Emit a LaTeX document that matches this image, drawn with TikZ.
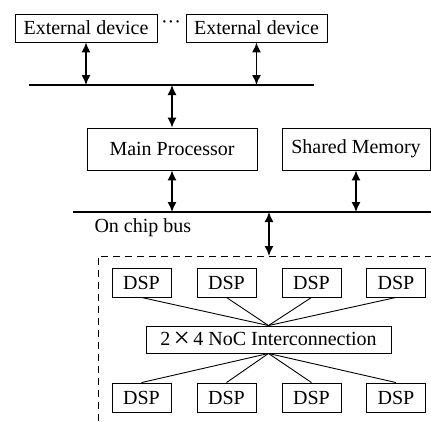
\documentclass[tikz,border=0pt]{standalone}
\usepackage{fontspec}
\setmainfont{Liberation Serif}
\usepackage{graphicx}
\usetikzlibrary{arrows.meta, math}

\begin{document}
\begin{tikzpicture}[x=1pt, y=-1pt,
  txt/.style={font=\fontsize{20}{22}\selectfont},
  box/.style={draw, line width=0.9pt, inner sep=0pt, txt},
  dsp/.style={box, minimum width=59, minimum height=29},
  bus/.style={line width=2.2pt},
  link/.style={{Latex[length=10pt,width=9pt]}-{Latex[length=10pt,width=9pt]}, line width=1.4pt},
  wire/.style={line width=0.9pt}]
\tikzmath{
\W=431; \H=421;
\yt=282.5; \yb=397.5;
}
\useasboundingbox (0,0) rectangle (\W,\H);

% external devices
\node[box, minimum width=142, minimum height=28] (ext1) at (86,28) {External device};
\node[txt] (dots) at (171,25) {···};
\node[box, minimum width=141, minimum height=28] (ext2) at (256.5,28) {External device};

% upper bus
\draw[bus] (29,85) coordinate (busa) -- (314,85) coordinate (busb);
\coordinate (e1) at (86,85);
\coordinate (e2) at (256.5,85);
\coordinate (mp) at (172,85);
\draw[link] (ext1.south) -- (e1);
\draw[link] (ext2.south) -- (e2);

% processor and memory
\node[box, minimum width=170, minimum height=42] (main) at (172,149) {Main Processor};
\node[box, minimum width=148, minimum height=42] (shared) at (356,149) {Shared Memory};
\draw[link] (mp) -- (main.north);

% on chip bus
\draw[bus] (73,212) coordinate (chipa) -- (431,212) coordinate (chipb);
\node[txt, anchor=base west] (chiplabel) at (91,232) {On chip bus};
\draw[link] (main.south) -- (main.south |- chipa);
\draw[link] (shared.south) -- (shared.south |- chipa);

% DSP cluster
\coordinate (cl) at (269,256);
\draw[link] (269,212) coordinate (tap) -- (cl);
\draw[line width=0.9pt, dash pattern=on 7pt off 5pt] (98,421) -- (98,256) -- (431,256);

\node[box, minimum width=245, minimum height=27] (noc) at (268.5,339.5)
  {2\,\raisebox{-1.5pt}{\scalebox{1.45}{×}}\,4 NoC Interconnection};
\foreach \x [count=\i] in {141.5,226.5,311.5,396}{
  \node[dsp] (t\i) at (\x,\yt) {DSP};
  \node[dsp] (b\i) at (\x,\yb) {DSP};
  \draw[wire] (t\i.south) -- (noc.north);
  \draw[wire] (noc.south) -- (b\i.north);
}

\end{tikzpicture}
\end{document}
